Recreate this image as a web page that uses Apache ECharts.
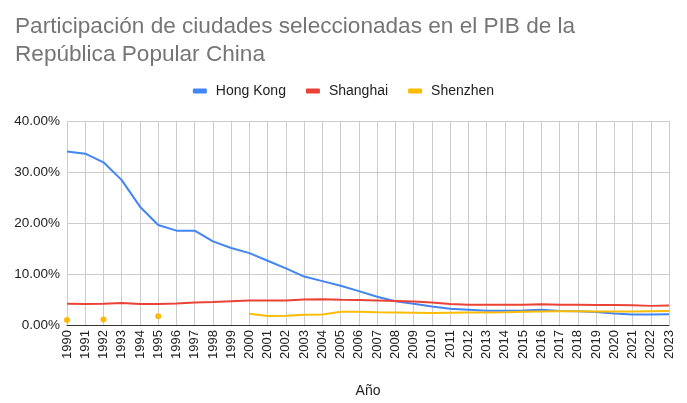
<!DOCTYPE html>
<html>
<head>
<meta charset="utf-8">
<script src="https://cdn.jsdelivr.net/npm/echarts@6/dist/echarts.min.js"></script>
<style>
  html, body { margin: 0; padding: 0; background: #fff; overflow: hidden; }
  #chart { width: 687px; height: 403px; }
</style>
</head>
<body>
<div id="chart"></div>
<script>
// Años del eje horizontal
const years = ['1990','1991','1992','1993','1994','1995','1996','1997','1998','1999',
  '2000','2001','2002','2003','2004','2005','2006','2007','2008','2009',
  '2010','2011','2012','2013','2014','2015','2016','2017','2018','2019',
  '2020','2021','2022','2023'];

// Participación en el PIB nacional (%)
const hongKong = [34.0, 33.6, 31.9, 28.4, 23.2, 19.6, 18.5, 18.5, 16.4, 15.1,
  14.1, 12.6, 11.1, 9.5, 8.6, 7.7, 6.65, 5.55, 4.65, 4.15,
  3.65, 3.2, 3.0, 2.8, 2.8, 2.85, 3.0, 2.75, 2.7, 2.55,
  2.25, 2.05, 2.05, 2.1];
const shanghai = [4.15, 4.1, 4.15, 4.3, 4.1, 4.1, 4.2, 4.4, 4.5, 4.65,
  4.8, 4.8, 4.8, 5.0, 5.05, 4.95, 4.9, 4.8, 4.7, 4.6,
  4.4, 4.1, 3.95, 3.95, 3.95, 3.95, 4.05, 3.95, 3.95, 3.9,
  3.9, 3.85, 3.75, 3.8];
const shenzhen = [1.0, null, 1.1, null, null, 1.7, null, null, null, null,
  2.2, 1.75, 1.8, 2.0, 2.05, 2.6, 2.6, 2.5, 2.45, 2.4,
  2.35, 2.4, 2.45, 2.45, 2.5, 2.6, 2.65, 2.7, 2.7, 2.65,
  2.65, 2.65, 2.7, 2.75];

const yTicks = { min: 0, max: 40, interval: 10 };

const FONT = '"Liberation Sans", Arial, sans-serif';

// Los valores aislados (sin vecinos) se dibujan como puntos
function withIsolatedDots(values) {
  return values.map((v, i) => {
    if (v == null) return null;
    const prev = i > 0 ? values[i - 1] : null;
    const next = i < values.length - 1 ? values[i + 1] : null;
    if (prev == null && next == null) {
      return { value: v, symbolSize: 6 };
    }
    return v;
  });
}

function lineSeries(name, data, color) {
  return {
    name: name,
    type: 'line',
    data: withIsolatedDots(data),
    connectNulls: false,
    symbol: 'circle',
    symbolSize: 0,
    showSymbol: true,
    showAllSymbol: true,
    smooth: false,
    lineStyle: { width: 2, color: color },
    itemStyle: { color: color },
    emphasis: { disabled: true }
  };
}

const chart = echarts.init(document.getElementById('chart'), null, { renderer: 'canvas' });
chart.setOption({
  animation: false,
  backgroundColor: '#ffffff',
  color: ['#4285F4', '#EA4335', '#FBBC04'],
  title: {
    text: 'Participación de ciudades seleccionadas en el PIB de la\nRepública Popular China',
    left: 10,
    top: 8,
    textStyle: {
      fontFamily: FONT,
      fontSize: 22.6,
      fontWeight: 'normal',
      color: '#757575',
      lineHeight: 28
    }
  },
  legend: {
    top: 79,
    left: 'center',
    icon: 'roundRect',
    itemWidth: 14,
    itemHeight: 5,
    itemGap: 20,
    textStyle: { fontFamily: FONT, fontSize: 14, color: '#222222', padding: [0, 0, 0, 4] },
    data: ['Hong Kong', 'Shanghai', 'Shenzhen']
  },
  grid: { left: 67, right: 18, top: 121, bottom: 74, containLabel: false },
  xAxis: {
    type: 'category',
    data: years,
    boundaryGap: false,
    name: 'Año',
    nameLocation: 'middle',
    nameGap: 59,
    nameTextStyle: { fontFamily: FONT, fontSize: 14, color: '#222222' },
    axisLine: { show: true, lineStyle: { color: '#333333', width: 1 } },
    axisTick: { show: false },
    axisLabel: {
      interval: 0,
      rotate: 90,
      margin: 5,
      fontFamily: FONT,
      fontSize: 13,
      color: '#222222'
    },
    splitLine: { show: true, interval: 0, lineStyle: { color: '#cccccc', width: 1 } }
  },
  yAxis: {
    type: 'value',
    min: yTicks.min,
    max: yTicks.max,
    interval: yTicks.interval,
    axisLine: { show: false },
    axisTick: { show: false },
    axisLabel: {
      margin: 7,
      fontFamily: FONT,
      fontSize: 13.5,
      color: '#222222',
      formatter: v => v.toFixed(2) + '%'
    },
    splitLine: { show: true, lineStyle: { color: '#cccccc', width: 1 } }
  },
  series: [
    lineSeries('Hong Kong', hongKong, '#4285F4'),
    lineSeries('Shanghai', shanghai, '#EA4335'),
    lineSeries('Shenzhen', shenzhen, '#FBBC04')
  ]
});
</script>
</body>
</html>
